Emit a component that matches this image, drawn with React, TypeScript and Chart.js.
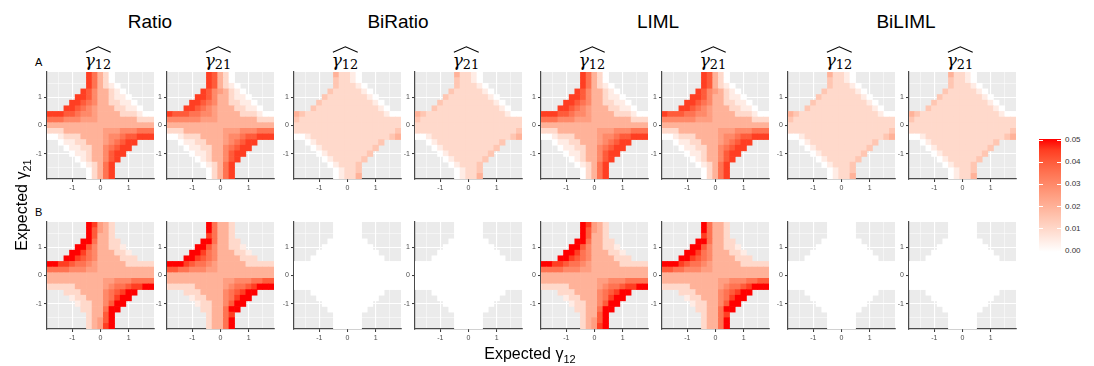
import React, { useEffect, useRef } from "react";
import { Chart, registerables } from "chart.js";

Chart.register(...registerables);

// ---------------- data ----------------
const xCentres = [-1.8, -1.6, -1.4, -1.2, -1.0, -0.8, -0.6, -0.4, -0.2, 0, 0.2, 0.4, 0.6, 0.8, 1.0, 1.2, 1.4, 1.6, 1.8];
const yCentres = [1.8, 1.6, 1.4, 1.2, 1.0, 0.8, 0.6, 0.4, 0.2, 0, -0.2, -0.4, -0.6, -0.8, -1.0, -1.2, -1.4, -1.6, -1.8];
const cellSize = 0.2;
const axisLimits = [-1.9, 1.9];
const axisBreaks = [-1, 0, 1];
const minorBreaks = [-1.5, -0.5, 0.5, 1.5];
const methods = ["Ratio", "BiRatio", "LIML", "BiLIML"];
const estimands = ["12", "21"];
const rowTags = ["A", "B"];
const legendBreaks = [0, 0.01, 0.02, 0.03, 0.04, 0.05];
const legendLabels = ["0.00", "0.01", "0.02", "0.03", "0.04", "0.05"];
const fillLimit = 0.05;
const levelStep = 0.005; // '0'..'9' = level x 0.005, 'X' = 0.05, '.' = no value

// rows run from expected gamma21 = 1.8 (top) to -1.8; columns from gamma12 = -1.8 to 1.8
const ratioA12 = [
  ".......97420.......",
  ".......97420.......",
  ".......974210......",
  "......98644210.....",
  ".....9986442110....",
  "....998764422110...",
  "...99876544422110..",
  "9998876654444222100",
  "7776665554444444222",
  "4444444444444444444",
  "2224444444555666777",
  "0012224444566788999",
  "..01122444567899...",
  "...011224467899....",
  "....0112446899.....",
  ".....01244689......",
  "......012479.......",
  ".......02479.......",
  ".......02479.......",
];
const ratioA21 = [
  ".......98420.......",
  ".......98420.......",
  ".......984210......",
  "......98654210.....",
  ".....9986442110....",
  "....998764422110...",
  "...99876544422110..",
  "9888776654444222100",
  "6666665554444444222",
  "4444444444444444444",
  "2224444444555666777",
  "0012224444566788999",
  "..01122444567899...",
  "...011224467899....",
  "....0112446899.....",
  ".....01244689......",
  "......012479.......",
  ".......02479.......",
  ".......02479.......",
];
const biRatioA12 = [
  ".......42210.......",
  ".......32210.......",
  ".......322210......",
  "......32222210.....",
  ".....3222222210....",
  "....322222222210...",
  "...32222222222210..",
  "4322222222222222100",
  "3222222222222222222",
  "2222222222222222222",
  "2222222222222222223",
  "0012222222222222234",
  "..01222222222223...",
  "...012222222223....",
  "....0122222223.....",
  ".....01222223......",
  "......012223.......",
  ".......01223.......",
  ".......01224.......",
];
const biRatioA21 = biRatioA12;
const limlA12 = ratioA12;
const limlA21 = ratioA21;
const biLimlA12 = biRatioA12;
const biLimlA21 = biRatioA21;

const ratioB12 = [
  ".......X9542.......",
  ".......X8542.......",
  ".......X8442.......",
  "......XX74422......",
  ".....XX8644221.....",
  "....XX976444221....",
  "...XX98764444222...",
  "XX99877654444422222",
  "7777666554444444444",
  "4444444444444444444",
  "4444444444556667777",
  "22222444445677899XX",
  "...22244446789XX...",
  "....122444679XX....",
  ".....1224468XX.....",
  "......22447XX......",
  ".......2448X.......",
  ".......2458X.......",
  ".......2459X.......",
];
const ratioB21 = [
  ".......X7442.......",
  ".......X7442.......",
  ".......97442.......",
  "......XX74422......",
  ".....XX8644221.....",
  "....XX976444221....",
  "...XX98764444222...",
  "XXX9877654444422222",
  "8877666554444444444",
  "4444444444444444444",
  "4444444444556667788",
  "2222244444567789XXX",
  "...22244446789XX...",
  "....122444679XX....",
  ".....1224468XX.....",
  "......22447XX......",
  ".......24479.......",
  ".......2447X.......",
  ".......2447X.......",
];
const biRatioB12 = [
  ".......00000.......",
  ".......00000.......",
  ".......00000.......",
  "......0000000......",
  ".....000000000.....",
  "....00000000000....",
  "...0000000000000...",
  "0000000000000000000",
  "0000000000000000000",
  "0000000000000000000",
  "0000000000000000000",
  "0000000000000000000",
  "...0000000000000...",
  "....00000000000....",
  ".....000000000.....",
  "......0000000......",
  ".......00000.......",
  ".......00000.......",
  ".......00000.......",
];
const biRatioB21 = biRatioB12;
const limlB12 = ratioB12;
const limlB21 = ratioB21;
const biLimlB12 = biRatioB12;
const biLimlB21 = biRatioB12;

const panelRows = [
  [ratioA12, ratioA21, biRatioA12, biRatioA21, limlA12, limlA21, biLimlA12, biLimlA21],
  [ratioB12, ratioB21, biRatioB12, biRatioB21, limlB12, limlB21, biLimlB12, biLimlB21],
];

// ---------------- layout ----------------
const panelLefts = [47, 167, 294, 415, 541, 662, 788, 909];
const panelTops = [72, 222];
const PANEL = 107;
const Y_AXIS_W = 18;
const X_AXIS_H = 16;
const PAD_TOP = 10;
const PAD_RIGHT = 6;
const titleCentres = [150, 398, 658, 906];
const FONT = '"Liberation Sans", Arial, sans-serif';

// ---------------- colour (ggplot2 white -> red in CIELAB) ----------------
const toLin = (c: number) => {
  const s = c / 255;
  return s <= 0.04045 ? s / 12.92 : Math.pow((s + 0.055) / 1.055, 2.4);
};
const fromLin = (c: number) => {
  const s = c <= 0.0031308 ? 12.92 * c : 1.055 * Math.pow(c, 1 / 2.4) - 0.055;
  return Math.round(Math.max(0, Math.min(1, s)) * 255);
};
const WX = 0.95047;
const WZ = 1.08883;
function rgbToLab(rgb: number[]) {
  const [R, G, B] = rgb.map(toLin);
  const X = (0.4124564 * R + 0.3575761 * G + 0.1804375 * B) / WX;
  const Y = 0.2126729 * R + 0.7151522 * G + 0.072175 * B;
  const Z = (0.0193339 * R + 0.119192 * G + 0.9503041 * B) / WZ;
  const f = (t: number) => (t > 0.008856 ? Math.cbrt(t) : 7.787 * t + 16 / 116);
  const fx = f(X), fy = f(Y), fz = f(Z);
  return [116 * fy - 16, 500 * (fx - fy), 200 * (fy - fz)];
}
function labToRgb(lab: number[]) {
  const [L, a, b] = lab;
  const fy = (L + 16) / 116;
  const fx = fy + a / 500;
  const fz = fy - b / 200;
  const inv = (t: number) => (t * t * t > 0.008856 ? t * t * t : (t - 16 / 116) / 7.787);
  const X = WX * inv(fx), Y = inv(fy), Z = WZ * inv(fz);
  const R = 3.2404542 * X - 1.5371385 * Y - 0.4985314 * Z;
  const G = -0.969266 * X + 1.8760108 * Y + 0.041556 * Z;
  const B = 0.0556434 * X - 0.2040259 * Y + 1.0572252 * Z;
  return [fromLin(R), fromLin(G), fromLin(B)];
}
const LOW_LAB = rgbToLab([255, 255, 255]);
const HIGH_LAB = rgbToLab([255, 0, 0]);
function fillFor(v: number) {
  const t = Math.max(0, Math.min(1, v / fillLimit));
  const lab = LOW_LAB.map((l, k) => l + (HIGH_LAB[k] - l) * t);
  const [r, g, b] = labToRgb(lab);
  return `rgb(${r},${g},${b})`;
}
function decode(ch: string): number | null {
  if (ch === ".") return null;
  if (ch === "X") return 10 * levelStep;
  return Number(ch) * levelStep;
}

const panelBackground = {
  id: "panelBackground",
  beforeDraw(chart: any) {
    const { ctx, chartArea: a } = chart;
    ctx.save();
    ctx.fillStyle = "#EBEBEB";
    ctx.fillRect(a.left, a.top, a.width, a.height);
    ctx.restore();
  },
};

const isMajor = (v: number) => axisBreaks.includes(v);
const allBreaks = [...minorBreaks, ...axisBreaks].sort((a, b) => a - b);

function axisOptions(axis: "x" | "y") {
  return {
    type: "linear",
    position: axis === "x" ? "bottom" : "left",
    min: axisLimits[0],
    max: axisLimits[1],
    offset: false,
    afterBuildTicks: (s: any) => {
      s.ticks = allBreaks.map((value) => ({ value }));
    },
    afterFit: (s: any) => {
      if (axis === "x") s.height = X_AXIS_H;
      else s.width = Y_AXIS_W;
    },
    grid: {
      offset: false,
      color: "#FFFFFF",
      lineWidth: (c: any) => (c.tick && isMajor(c.tick.value) ? 1.1 : 0.5),
      drawTicks: true,
      tickLength: 3,
      tickWidth: 1,
      tickColor: (c: any) => (c.tick && isMajor(c.tick.value) ? "#333333" : "rgba(0,0,0,0)"),
    },
    border: { display: true, color: "#4a4a4a", width: 1.2 },
    ticks: {
      autoSkip: false,
      maxRotation: 0,
      padding: 2,
      color: "#4D4D4D",
      font: { size: 7, family: FONT },
      callback: (v: any) => (isMajor(Number(v)) ? String(v) : ""),
    },
  };
}

function HeatPanel({ grid, left, top }: { grid: string[]; left: number; top: number }) {
  const ref = useRef<HTMLCanvasElement>(null);
  const W = Y_AXIS_W + PANEL + PAD_RIGHT;
  const H = PAD_TOP + PANEL + X_AXIS_H;
  useEffect(() => {
    const canvas = ref.current!;
    const cells: any[] = [];
    grid.forEach((row, i) => {
      row.split("").forEach((ch, j) => {
        const v = decode(ch);
        if (v === null) return;
        cells.push({ x: xCentres[j], y: [yCentres[i] - cellSize / 2, yCentres[i] + cellSize / 2], v });
      });
    });
    const chart = new Chart(canvas, {
      type: "bar",
      data: {
        datasets: [
          {
            data: cells,
            backgroundColor: (c: any) => (c.raw ? fillFor(c.raw.v) : "rgba(0,0,0,0)"),
            borderWidth: 0,
            barPercentage: 1,
            categoryPercentage: 1,
            grouped: false,
          } as any,
        ],
      },
      options: {
        responsive: false,
        animation: false,
        events: [],
        layout: { padding: { top: PAD_TOP, right: PAD_RIGHT, left: 0, bottom: 0 } },
        plugins: { legend: { display: false }, tooltip: { enabled: false } },
        scales: { x: axisOptions("x") as any, y: axisOptions("y") as any },
      },
      plugins: [panelBackground],
    });
    const a = chart.chartArea;
    canvas.style.left = `${left - a.left}px`;
    canvas.style.top = `${top - a.top}px`;
    return () => chart.destroy();
  }, [grid, left, top]);
  return (
    <canvas
      ref={ref}
      width={W}
      height={H}
      style={{ position: "absolute", left: left - Y_AXIS_W, top: top - PAD_TOP, width: W, height: H }}
    />
  );
}

function GammaHat({ sub, cx, top, size = 17 }: { sub: string; cx: number; top: number; size?: number }) {
  return (
    <div
      style={{
        position: "absolute",
        left: cx - 40,
        top,
        width: 80,
        textAlign: "center",
        fontFamily: '"DejaVu Serif", serif',
        fontSize: size,
        lineHeight: "18px",
        color: "#000",
        whiteSpace: "nowrap",
      }}
    >
      <span style={{ position: "relative", display: "inline-block" }}>
        <svg
          width="100%"
          height="7"
          viewBox="0 0 30 7"
          preserveAspectRatio="none"
          style={{ position: "absolute", left: 0, top: -5 }}
        >
          <polyline points="1,6.3 15,0.8 29,6.3" fill="none" stroke="#000" strokeWidth="1.2" />
        </svg>
        <span style={{ fontStyle: "italic" }}>γ</span>
        <span style={{ fontSize: size * 0.76, position: "relative", top: 3 }}>{sub}</span>
      </span>
    </div>
  );
}

function Legend() {
  const top = 139;
  const bottom = 252;
  const y0 = 251;
  const y1 = 140;
  const stops = Array.from({ length: 11 }, (_, k) => `${fillFor((k / 10) * fillLimit)} ${k * 10}%`).join(",");
  const yFor = (v: number) => y0 - (v / fillLimit) * (y0 - y1);
  return (
    <>
      <div
        style={{
          position: "absolute",
          left: 1039,
          top,
          width: 22,
          height: bottom - top,
          background: `linear-gradient(to top, ${stops})`,
        }}
      />
      {legendBreaks.map((v, k) => (
        <React.Fragment key={k}>
          <div style={{ position: "absolute", left: 1039, top: yFor(v) - 0.5, width: 4, height: 1, background: "#fff" }} />
          <div style={{ position: "absolute", left: 1057, top: yFor(v) - 0.5, width: 4, height: 1, background: "#fff" }} />
          <div
            style={{
              position: "absolute",
              left: 1065,
              top: yFor(v) - 5,
              fontFamily: FONT,
              fontSize: 8,
              lineHeight: "10px",
              color: "#333",
            }}
          >
            {legendLabels[k]}
          </div>
        </React.Fragment>
      ))}
    </>
  );
}

export default function App() {
  return (
    <div
      style={{
        position: "absolute",
        left: 0,
        top: 0,
        width: 1094,
        height: 366,
        background: "#fff",
        overflow: "hidden",
      }}
    >
      {methods.map((m, k) => (
        <div
          key={m}
          style={{
            position: "absolute",
            left: titleCentres[k] - 60,
            top: 10,
            width: 120,
            textAlign: "center",
            fontFamily: FONT,
            fontSize: 19,
            lineHeight: "24px",
            color: "#000",
          }}
        >
          {m}
        </div>
      ))}
      {panelLefts.map((l, k) => (
        <GammaHat key={k} sub={estimands[k % 2]} cx={l + 51} top={51} />
      ))}
      {rowTags.map((t, r) => (
        <div
          key={t}
          style={{
            position: "absolute",
            left: 35,
            top: panelTops[r] - 16,
            fontFamily: FONT,
            fontSize: 11,
            lineHeight: "12px",
            color: "#000",
          }}
        >
          {t}
        </div>
      ))}
      {panelRows.map((row, r) =>
        row.map((grid, k) => <HeatPanel key={`${r}-${k}`} grid={grid} left={panelLefts[k]} top={panelTops[r]} />)
      )}
      <div
        style={{
          position: "absolute",
          left: 22 - 60,
          top: 205 - 10,
          width: 120,
          height: 20,
          textAlign: "center",
          transform: "rotate(-90deg)",
          fontFamily: FONT,
          fontSize: 16,
          lineHeight: "20px",
          color: "#000",
          whiteSpace: "nowrap",
        }}
      >
        Expected γ<span style={{ fontSize: 11, position: "relative", top: 4 }}>21</span>
      </div>
      <div
        style={{
          position: "absolute",
          left: 530 - 80,
          top: 344,
          width: 160,
          textAlign: "center",
          fontFamily: FONT,
          fontSize: 16,
          lineHeight: "20px",
          color: "#000",
          whiteSpace: "nowrap",
        }}
      >
        Expected γ<span style={{ fontSize: 11, position: "relative", top: 4 }}>12</span>
      </div>
      <Legend />
    </div>
  );
}
